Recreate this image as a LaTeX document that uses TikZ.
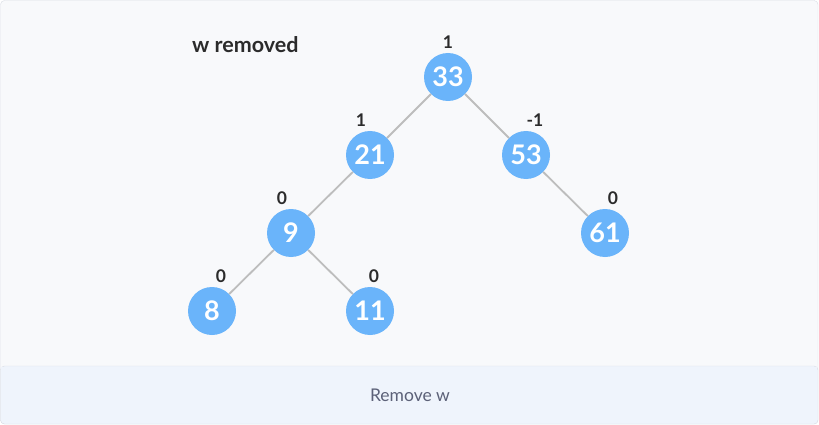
\documentclass[tikz,border=0pt]{standalone}
\usepackage{fontspec}
\setmainfont{Lato}
\definecolor{cardbg}{HTML}{F8F9FB}
\definecolor{barbg}{HTML}{EFF4FC}
\definecolor{cardline}{HTML}{D9DDE5}
\definecolor{keyblue}{HTML}{6AB4FA}
\definecolor{edgegray}{HTML}{BDBDBD}
\definecolor{darktext}{HTML}{2B2B2B}
\definecolor{btntext}{HTML}{5C6178}
\tikzset{
	key/.style={circle, fill=keyblue, minimum size=48pt, inner sep=0pt, text=white, font=\fontsize{27}{27}\selectfont\bfseries},
	bal/.style={text=darktext, font=\fontsize{17.5}{17.5}\selectfont\bfseries, inner sep=0pt},
	edge/.style={edgegray, line width=1.8pt}
}
\begin{document}
\begin{tikzpicture}[x=1pt, y=-1pt]
			%%%%% START %%%%%
			
			\useasboundingbox (0, 0) rectangle (819, 425);
			\draw[cardline, fill=cardbg, rounded corners=4pt] (0.5, 0.5) rectangle (818, 424);
			\draw[cardline, fill=barbg, rounded corners=4pt] (0.5, 366) rectangle (818, 424);
			\fill[barbg] (1.2, 366.7) rectangle (817.3, 380);
			
			\node[font=\fontsize{21.5}{21.5}\selectfont\bfseries, text=darktext, anchor=west, inner sep=0pt] (title) at (192, 45) {w removed};
			
			\node[key] (k33) at (448, 77) {33};
			\node[key] (k21) at (370, 155) {21};
			\node[key] (k53) at (526, 155) {53};
			\node[key] (k9) at (291, 233) {9};
			\node[key] (k61) at (605, 233) {61};
			\node[key] (k8) at (212, 311) {8};
			\node[key] (k11) at (370, 311) {11};
			
			\draw[edge] (k33) -- (k21);
			\draw[edge] (k33) -- (k53);
			\draw[edge] (k21) -- (k9);
			\draw[edge] (k53) -- (k61);
			\draw[edge] (k9) -- (k8);
			\draw[edge] (k9) -- (k11);
			
			\node[bal] (b33) at (448, 42) {1};
			\node[bal] (b21) at (361, 120) {1};
			\node[bal] (b53) at (535, 120) {-1};
			\node[bal] (b9) at (282, 198) {0};
			\node[bal] (b61) at (613, 198) {0};
			\node[bal] (b8) at (221, 276) {0};
			\node[bal] (b11) at (374, 276) {0};
			
			\node[text=btntext, font=\fontsize{17.5}{17.5}\selectfont] (btn) at (410, 395) {Remove w};
			
			%%%%% END %%%%%
		\end{tikzpicture}
\end{document}
